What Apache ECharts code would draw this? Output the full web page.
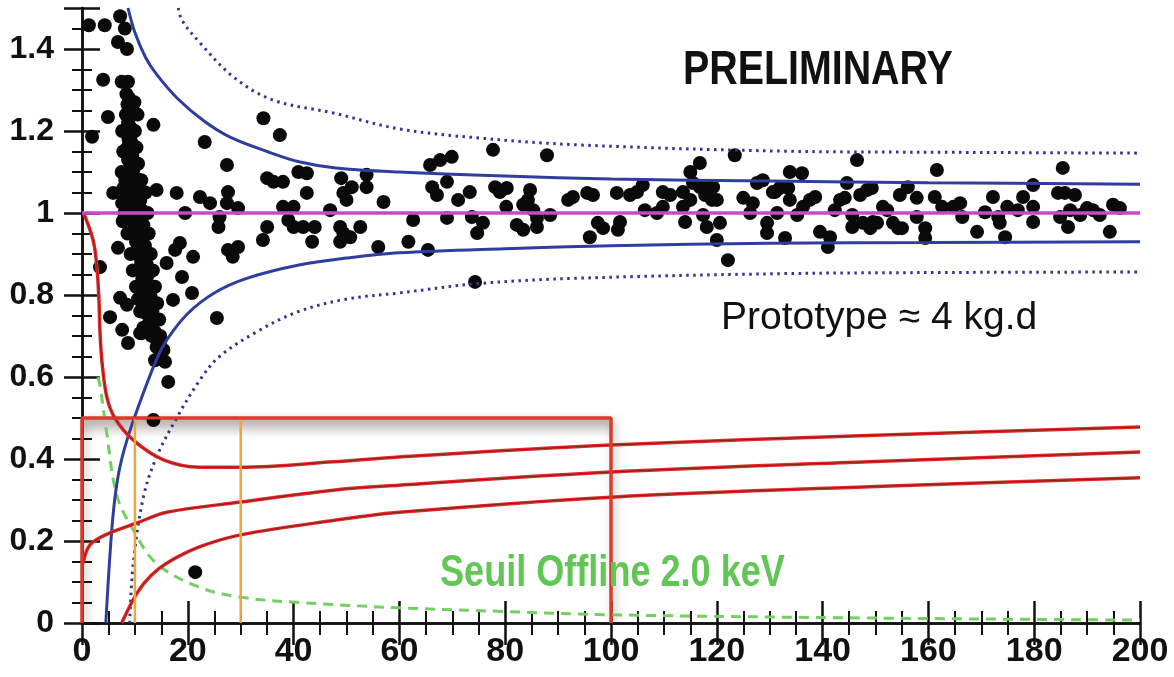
<!DOCTYPE html>
<html>
<head>
<meta charset="utf-8">
<script src="https://cdn.jsdelivr.net/npm/echarts@6/dist/echarts.min.js"></script>
<style>
  html, body { margin: 0; padding: 0; background: #fff; }
  #main { width: 1174px; height: 677px; }
</style>
</head>
<body>
<div id="main"></div>
<script>
// axes
var xTicks = [0, 20, 40, 60, 80, 100, 120, 140, 160, 180, 200];
var yTicks = [0, 0.2, 0.4, 0.6, 0.8, 1, 1.2, 1.4];

// black points, the dense column near x ~ 10
var columnDots = [
  [8.4,1.29],[8.9,1.28],[8.6,1.265],[8.8,1.25],[8.3,1.24],[9.0,1.235],[8.7,1.22],[9.1,1.21],[8.5,1.2],[9.2,1.19],
  [8.8,1.18],[9.4,1.17],[8.6,1.16],[9.0,1.15],[9.5,1.14],[8.7,1.13],[9.2,1.12],[9.8,1.11],[8.9,1.10],[9.5,1.09],
  [10.2,1.085],[9.0,1.075],[9.7,1.065],[10.6,1.06],[8.5,1.05],[9.3,1.045],[10.1,1.035],[11.0,1.03],[8.9,1.02],[9.8,1.015],
  [10.7,1.01],[11.5,1.005],[9.2,1.0],[10.2,0.995],[11.2,0.99],[9.6,0.98],[10.6,0.975],[11.6,0.97],[10.0,0.96],[11.0,0.955],
  [10.4,0.945],[11.4,0.94],[10.2,0.93],[11.1,0.925],[11.9,0.92],[10.6,0.91],[11.5,0.905],[10.9,0.895],[11.9,0.89],[11.2,0.88],
  [12.2,0.875],[11.0,0.865],[11.8,0.86],[12.5,0.85],[11.4,0.84],[12.2,0.835],[11.8,0.82],[12.8,0.815],[12.1,0.80],[13.0,0.795],
  [12.4,0.785],[11.6,0.775],[12.8,0.77],[13.3,0.76],[12.2,0.755],[12.9,0.745],[13.6,0.74],[12.6,0.73],[13.3,0.725],[12.9,0.715],
  [13.8,0.71],[13.2,0.70],[14.0,0.695],[7.8,1.06],[8.0,1.0],[7.9,1.03],
  [7.6,1.2],[7.8,1.15],[7.5,1.1],[8.2,1.08],[7.7,0.98],[8.6,0.95],[9.2,0.9],[9.6,0.86],[10.2,0.82],[10.6,0.79],
  [11.0,0.76],[11.6,0.72],[10.0,1.2],[10.3,1.16],[10.6,1.12],[11.2,1.08],[12.0,1.05],[12.4,1.0],[12.6,0.95],[13.0,0.9],
  [13.4,0.86],[13.8,0.82],[14.2,0.78],[14.6,0.74],[14.8,0.7],[10.5,1.24],[9.9,1.27]
];

// black points, left part (x < 60)
var leftDots = [
  [1.3,1.458],[4.3,1.458],[7.2,1.48],[8.1,1.45],[6.8,1.417],[8.5,1.40],[4,1.325],[7.5,1.32],[8.7,1.32],[4.9,1.234],
  [1.9,1.186],[13.5,1.215],[5.9,1.049],[14.1,1.056],[17.9,1.049],[7.6,1.024],[6.8,0.915],[3.4,0.868],[7.2,0.793],[8.5,0.776],
  [5.3,0.746],[7.6,0.715],[8.7,0.683],[11.3,0.707],[14.7,0.683],[16,0.878],[17.6,0.91],[18.9,0.844],[17.2,0.788],[20.8,0.805],
  [18.5,0.927],[21,0.893],[19.5,1.0],[23.2,1.173],[34.3,1.231],[37.4,1.19],[27.4,1.117],[35,1.085],[36.2,1.076],[38,1.076],
  [40.9,1.1],[42.5,1.097],[49,1.085],[51,1.063],[53.8,1.093],[53.8,1.063],[22.3,1.039],[24.2,1.024],[27.6,1.051],[27.4,1.024],
  [29.5,1.012],[42.5,1.049],[49.4,1.049],[50,1.032],[57,1.027],[26,0.99],[25.8,0.966],[35,0.966],[38,1.015],[40,1.015],
  [39,0.983],[40,0.966],[41.8,0.966],[44,0.966],[43.5,0.93],[46.9,1.007],[48.8,0.966],[49.4,0.951],[50.7,0.941],[48.8,0.93],
  [52.6,0.966],[56,0.917],[27.6,0.91],[29.5,0.917],[28.5,0.893],[34.2,0.934],[25.5,0.744],[14.1,0.673],[15.4,0.666],[14.8,0.649],
  [13.8,0.641],[15.7,0.637],[16.3,0.588],[13.5,0.495],[21.4,0.124],[11,0.707],[13.5,0.707]
];

// black points, middle part (60 - 130)
var midDots = [
  [61.7,0.93],[62.6,0.983],[65.4,0.91],[65.8,1.117],[67.7,1.129],[69.9,1.137],[66.2,1.063],[67.1,1.044],[69,1.076],[69,0.988],
  [71.1,1.032],[73.3,1.051],[73.7,0.99],[74.7,0.951],[75.8,0.976],[74.3,0.832],[77.7,1.154],[78.1,1.063],[79,1.051],[80.3,1.061],
  [80.2,1.015],[82.2,0.971],[83.4,0.959],[84.7,1.056],[84.3,1.032],[85.3,1.007],[83.4,1.02],[86,0.966],[86,0.988],[88.5,0.995],
  [87.9,1.141],[91.9,1.032],[92.8,1.039],[95.5,1.049],[96.6,1.044],[96,0.941],[97.5,0.976],[98.5,0.963],[101.7,0.978],[101.3,0.959],
  [101.1,1.049],[103.6,1.044],[104.9,1.051],[106,1.068],[106.4,1.007],[108.7,1.0],[109.8,1.051],[111.2,1.044],[109.8,1.015],[113.6,1.051],
  [113.6,1.015],[114,0.978],[115,1.032],[115,1.1],[116.8,1.122],[115.5,1.073],[116.8,1.063],[118.1,1.061],[119.3,1.063],[117.8,1.044],
  [119.1,1.032],[120,1.032],[117.4,0.995],[118.1,0.966],[120.6,0.976],[120,0.934],[122.1,0.885],[123.4,1.141],[125,1.037],[126.8,1.024],
  [126.3,1.0],[128.7,1.08],[127.6,1.073],[129.5,0.976],[129.5,0.951]
];

// black points, right part (x > 130)
var rightDots = [
  [131,1.051],[131.4,1.0],[130.6,1.051],[131.9,1.061],[133.5,1.061],[133.8,1.032],[132.9,0.939],[135.2,0.995],[136.3,1.015],[137.6,1.032],
  [138.6,1.039],[133.8,1.1],[136.1,1.097],[139.5,0.954],[141.4,0.941],[141,0.917],[142.3,1.007],[143.3,1.032],[144.6,1.073],[144.2,1.037],
  [146.5,1.129],[145.6,0.995],[145.6,0.966],[147.1,1.044],[148.4,1.056],[149.3,1.061],[147.6,0.976],[149,0.963],[149.5,0.978],[150.3,0.976],
  [151.4,1.015],[152.2,1.007],[153.3,0.976],[154.3,0.963],[155,0.963],[154.6,1.044],[156.1,1.063],[157.8,1.037],[157.8,0.99],[159.4,0.963],
  [159.4,0.939],[161.6,1.105],[161.2,1.039],[162.6,1.015],[164.7,1.015],[166.4,0.99],[166,1.024],[169.2,0.954],[170.7,1.002],[172.2,1.039],
  [173.2,0.99],[173.5,0.976],[174.5,0.941],[174.9,1.015],[176.9,1.007],[177.9,1.039],[179.8,1.015],[179.8,0.978],[179.8,1.068],[185.4,1.11],
  [184.5,1.049],[185.8,1.049],[187.7,1.044],[184.9,0.99],[186.4,0.966],[186.8,1.007],[188.7,0.995],[190,1.012],[191.1,1.007],[192.4,0.995],
  [194.3,0.954],[194.9,1.02],[196.2,1.012]
];

// blue bands
var blueUpper = [[8.7,1.5],[10,1.44],[12,1.38],[14,1.34],[18,1.28],[23,1.225],[28,1.185],[35,1.15],[41,1.125],[48,1.11],[60,1.1],[80,1.09],[100,1.083],[130,1.078],[160,1.074],[200,1.07]];
var blueLower = [[4.5,0],[5.2,0.15],[6,0.28],[7,0.37],[8.5,0.446],[11,0.54],[14,0.64],[16,0.69],[20,0.755],[25,0.805],[31,0.84],[41,0.873],[50,0.89],[60,0.903],[80,0.913],[100,0.92],[130,0.926],[160,0.928],[200,0.93]];
var dotUpper = [[18.2,1.5],[18.9,1.47],[22.3,1.415],[28.6,1.332],[36,1.276],[47.5,1.244],[60,1.205],[75,1.183],[94,1.166],[132,1.151],[165,1.148],[200,1.146]];
var dotLower = [[9,0],[9.7,0.146],[11.6,0.307],[14.1,0.405],[17.9,0.5],[22.3,0.593],[26,0.65],[33,0.71],[41,0.76],[50,0.79],[60,0.805],[75,0.828],[94,0.841],[132,0.852],[165,0.855],[200,0.856]];

// red curves
var redTop = [[0.3,1.0],[2.1,0.934],[2.8,0.87],[3.2,0.79],[3.4,0.71],[3.8,0.634],[4.7,0.551],[6.2,0.5],[9.7,0.446],[15.4,0.398],[22.3,0.38],[30,0.38],[47.5,0.393],[60,0.405],[100,0.434],[150,0.458],[200,0.478]];
var redMid = [[0.2,0.146],[1,0.18],[2.1,0.198],[5.3,0.22],[10.4,0.244],[16,0.27],[30,0.295],[47.5,0.324],[60,0.336],[100,0.368],[150,0.394],[200,0.417]];
var redLow = [[7.5,0],[10.4,0.073],[13,0.115],[16,0.146],[22.3,0.186],[30,0.215],[47.5,0.25],[60,0.27],[100,0.307],[150,0.333],[200,0.354]];

// green threshold
var greenDash = [[3,0.6],[3.4,0.58],[4.6,0.47],[6.6,0.31],[9.7,0.227],[14,0.146],[22,0.088],[30,0.063],[41,0.05],[60,0.037],[80,0.028],[100,0.02],[150,0.012],[200,0.007]];

var refLine = [[0,1],[200,1]];
var boxPath = [[0,0],[0,0.5],[100,0.5],[100,0]];
var cutA = [[10,0],[10,0.5]];
var cutB = [[30,0],[30,0.5]];

var myChart = echarts.init(document.getElementById('main'));

var sansFont = "'Liberation Sans', Arial, sans-serif";

function xAxisOf(pos, showLabel) {
    return {
        type: 'value', position: pos, min: 0, max: 200, interval: 20,
        axisLine: { show: true, lineStyle: { color: '#111', width: 2.5 } },
        axisTick: { show: true, inside: true, length: 22, lineStyle: { color: '#111', width: 2.5 } },
        minorTick: { show: true, splitNumber: 4, length: 12, lineStyle: { color: '#111', width: 2 } },
        splitLine: { show: false },
        axisLabel: { show: showLabel, color: '#111', fontFamily: sansFont, fontWeight: 'bold', fontSize: 34, margin: 12 }
    };
}
function yAxisOf(pos, showLabel) {
    return {
        type: 'value', position: pos, min: 0, max: 1.5, interval: 0.2,
        axisLine: { show: true, lineStyle: { color: '#111', width: 2.5 } },
        axisTick: { show: true, inside: true, length: 18, lineStyle: { color: '#111', width: 2.5 } },
        minorTick: { show: true, splitNumber: 4, length: 10, lineStyle: { color: '#111', width: 2 } },
        splitLine: { show: false },
        axisLabel: { show: showLabel, showMaxLabel: false, color: '#111', fontFamily: sansFont, fontWeight: 'bold', fontSize: 32, margin: 28 }
    };
}

function curve(data, color, width, type, z) {
    return {
        type: 'line', data: data, smooth: 0.35, symbol: 'none', z: z || 3,
        lineStyle: { color: color, width: width, type: type || 'solid' }, silent: true
    };
}

function dots(data) {
    return { type: 'scatter', data: data, symbolSize: 14, itemStyle: { color: '#0a0a0a', opacity: 1 }, z: 2 };
}

var option = {
    backgroundColor: '#fff',
    animation: false,
    grid: { left: 82, right: 34, top: 8, bottom: 54 },
    xAxis: [xAxisOf('bottom', true), xAxisOf('top', false)],
    yAxis: [yAxisOf('left', true), yAxisOf('right', false)],
    series: [
        {
            type: 'line', data: boxPath, symbol: 'none', z: 1,
            lineStyle: { color: '#d93a2a', width: 3, shadowColor: 'rgba(60,40,30,0.4)', shadowBlur: 10, shadowOffsetX: 3, shadowOffsetY: 4 },
            markArea: {
                silent: true,
                itemStyle: {
                    color: { type: 'linear', x: 0, y: 0, x2: 0, y2: 1, colorStops: [
                        { offset: 0, color: 'rgba(110,95,85,0.4)' }, { offset: 1, color: 'rgba(110,95,85,0)' } ] }
                },
                data: [[{ coord: [0, 0.5] }, { coord: [100, 0.45] }]]
            }
        },
        dots(columnDots),
        dots(leftDots),
        dots(midDots),
        dots(rightDots),
        curve(greenDash, '#72d062', 3, [10, 7], 3),
        curve(dotUpper, '#2f3590', 3, [2.5, 4.5], 3),
        curve(dotLower, '#2f3590', 3, [2.5, 4.5], 3),
        curve(blueUpper, '#2e3d9e', 3, 'solid', 4),
        curve(blueLower, '#2e3d9e', 3, 'solid', 4),
        curve(redTop, '#e42a26', 3.5, 'solid', 4),
        curve(redMid, '#e42a26', 3.5, 'solid', 4),
        curve(redLow, '#e42a26', 3.5, 'solid', 4),
        curve(redTop, '#7a1c1c', 0.9, 'solid', 5),
        curve(redMid, '#7a1c1c', 0.9, 'solid', 5),
        curve(redLow, '#7a1c1c', 0.9, 'solid', 5),
        { type: 'line', data: refLine, symbol: 'none', z: 5, lineStyle: { color: '#c44bc6', width: 3.5 } },
        { type: 'line', data: cutA, symbol: 'none', z: 5, lineStyle: { color: '#f0a43c', width: 2.5 } },
        { type: 'line', data: cutB, symbol: 'none', z: 5, lineStyle: { color: '#f0a43c', width: 2.5 } },
        { type: 'line', data: boxPath, symbol: 'none', z: 6, lineStyle: { color: '#d93a2a', width: 3 } }
    ],
    graphic: [
        { type: 'text', left: 683, top: 47, z: 10, scaleX: 0.82,
          style: { text: 'PRELIMINARY', font: 'bold 48px ' + sansFont, fill: '#111' } },
        { type: 'text', left: 721, top: 299, z: 10,
          style: { text: 'Prototype ≈ 4 kg.d', font: '39px ' + sansFont, fill: '#111' } },
        { type: 'text', left: 440, top: 552, z: 10, scaleX: 0.82,
          style: { text: 'Seuil Offline 2.0 keV', font: 'bold 44px ' + sansFont, fill: '#62c656' } }
    ]
};

myChart.setOption(option);
</script>
</body>
</html>
